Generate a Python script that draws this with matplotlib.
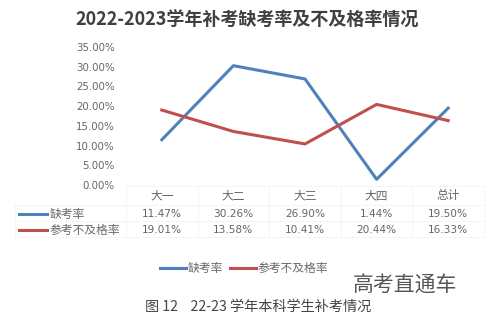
import numpy as np
import matplotlib
matplotlib.use("Agg")
import matplotlib.pyplot as plt
from matplotlib.lines import Line2D

plt.rcParams['font.family'] = ['Noto Sans CJK SC', 'DejaVu Sans']

# Categories (year of study) and the two rates, in percent
categories = ['大一', '大二', '大三', '大四', '总计']
absent_rate = [11.47, 30.26, 26.90, 1.44, 19.50]
fail_rate = [19.01, 13.58, 10.41, 20.44, 16.33]
series_names = ['缺考率', '参考不及格率']
yticks = [0, 5, 10, 15, 20, 25, 30, 35]

W, H = 489, 325
blue = '#4f81bd'
red = '#c0504d'
grey_text = '#666666'
grid_col = '#ebebeb'

fig = plt.figure(figsize=(W / 100, H / 100), dpi=100)
fig.patch.set_facecolor('white')

# Pixel helper for figure coordinates (origin top-left)
def px(x, y):
    return x / W, 1 - y / H

# Plot area spans the table's data columns
left, right, top, bottom = 126, 484, 47, 185
ax = fig.add_axes([left / W, 1 - bottom / H, (right - left) / W, (bottom - top) / H])
ax.set_xlim(-0.5, len(categories) - 0.5)
ax.set_ylim(0, 35)
for s in ax.spines.values():
    s.set_visible(False)
ax.set_xticks([])
ax.set_yticks(yticks)
ax.set_yticklabels(['{:.2f}%'.format(v) for v in yticks], color=grey_text,
                   fontsize=7.4, family='DejaVu Sans')
ax.tick_params(axis='y', length=0, pad=8)
ax.patch.set_alpha(0)

x = np.arange(len(categories))
ax.plot(x, absent_rate, color=blue, lw=2.2, solid_joinstyle='round', clip_on=False)
ax.plot(x, fail_rate, color=red, lw=2.2, solid_joinstyle='round', clip_on=False)

# Title
fig.text(*px(247, 20), '2022-2023学年补考缺考率及不及格率情况', ha='center', va='center',
         fontsize=13, fontweight='bold', color='#404040')

# Data table below the plot
col_w = (right - left) / len(categories)
row_tops = [186, 205, 221, 237]
table_left = 15
line_kw = dict(color=grid_col, lw=0.7, ls=(0, (1, 1)), transform=fig.transFigure)
for yy in row_tops[1:]:
    fig.add_artist(Line2D([table_left / W, right / W], [1 - yy / H] * 2, **line_kw))
fig.add_artist(Line2D([left / W, right / W], [1 - row_tops[0] / H] * 2, **line_kw))
for i in range(len(categories) + 1):
    xx = left + i * col_w
    fig.add_artist(Line2D([xx / W] * 2, [1 - row_tops[0] / H, 1 - row_tops[-1] / H], **line_kw))
fig.add_artist(Line2D([table_left / W] * 2, [1 - row_tops[1] / H, 1 - row_tops[-1] / H], **line_kw))

for i, c in enumerate(categories):
    cx = left + (i + 0.5) * col_w
    fig.text(*px(cx, 196), c, ha='center', va='center', fontsize=8.5, color=grey_text)
    fig.text(*px(cx, 214), '{:.2f}%'.format(absent_rate[i]), ha='center', va='center',
             fontsize=7.6, color=grey_text, family='DejaVu Sans')
    fig.text(*px(cx, 230), '{:.2f}%'.format(fail_rate[i]), ha='center', va='center',
             fontsize=7.6, color=grey_text, family='DejaVu Sans')

for name, col, yy in zip(series_names, [blue, red], [214, 230]):
    fig.add_artist(Line2D([19 / W, 47 / W], [1 - yy / H] * 2, color=col, lw=2.2,
                          transform=fig.transFigure))
    fig.text(*px(50, yy), name, ha='left', va='center', fontsize=8.5, color=grey_text)

# Legend row
for name, col, x0 in zip(series_names, [blue, red], [160, 230]):
    fig.add_artist(Line2D([x0 / W, (x0 + 26) / W], [1 - 268 / H] * 2, color=col, lw=2.2,
                          transform=fig.transFigure))
    fig.text(*px(x0 + 28, 268), name, ha='left', va='center', fontsize=8.5, color=grey_text)

# Watermark and caption
fig.text(*px(405, 286), '高考直通车', ha='center', va='center', fontsize=15,
         color='#555555', fontweight='light')
fig.text(*px(258, 307), '图 12    22-23 学年本科学生补考情况', ha='center', va='center',
         fontsize=10.2, color='#444444', fontweight='light')

fig.savefig('out.png', dpi=100)
